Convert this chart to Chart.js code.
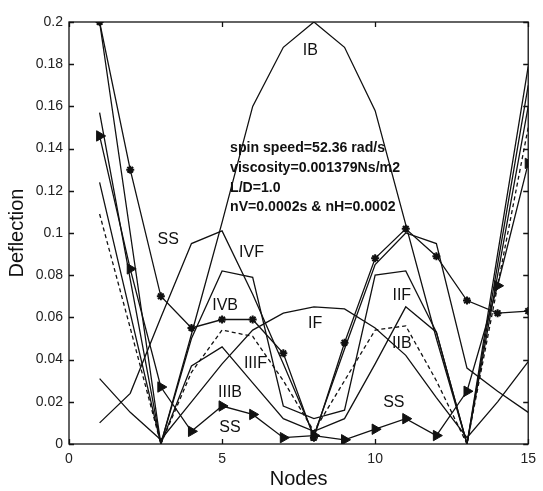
<!DOCTYPE html>
<html>
<head>
<meta charset="utf-8">
<script src="https://cdn.jsdelivr.net/npm/chart.js@4.4.1/dist/chart.umd.min.js"></script>
<style>
  html, body { margin: 0; padding: 0; background: #ffffff; }
  #wrap { width: 543px; height: 491px; }
</style>
</head>
<body>
<div id="wrap"><canvas id="c" width="543" height="491"></canvas></div>
<script>
// Node numbers along the shaft
const nodes = [1, 2, 3, 4, 5, 6, 7, 8, 9, 10, 11, 12, 13, 14, 15];

// Mode-shape deflections at each node
const modeIB   = [0.200, 0.100, 0.000, 0.052, 0.105, 0.160, 0.188, 0.200, 0.188, 0.158, 0.104, 0.050, 0.000, 0.090, 0.179];
const modeIVB  = [0.200, 0.130, 0.070, 0.055, 0.059, 0.059, 0.043, 0.003, 0.048, 0.088, 0.102, 0.089, 0.068, 0.062, 0.063];
const modeSS   = [0.146, 0.083, 0.027, 0.006, 0.018, 0.014, 0.003, 0.004, 0.002, 0.007, 0.012, 0.004, 0.025, 0.075, 0.133];
const modeIIB  = [0.109, 0.055, 0.000, 0.034, 0.054, 0.051, 0.030, 0.006, 0.030, 0.054, 0.056, 0.030, 0.000, 0.075, 0.150];
const modeIF   = [0.031, 0.015, 0.002, 0.020, 0.038, 0.054, 0.062, 0.065, 0.064, 0.055, 0.042, 0.022, 0.003, 0.020, 0.039];
const modeIVF  = [0.010, 0.024, 0.060, 0.095, 0.101, 0.071, 0.038, 0.004, 0.045, 0.085, 0.100, 0.095, 0.036, 0.025, 0.015];
const modeIIF  = [0.157, 0.078, 0.000, 0.050, 0.082, 0.079, 0.018, 0.012, 0.016, 0.080, 0.082, 0.053, 0.000, 0.085, 0.170];
const modeIIIF = [0.124, 0.062, 0.000, 0.037, 0.046, 0.029, 0.012, 0.006, 0.012, 0.038, 0.065, 0.053, 0.000, 0.080, 0.160];

// Axis ticks
const xTicks = [0, 5, 10, 15];
const xTickLabels = ['0', '5', '10', '15'];
const yTicks = [0, 0.02, 0.04, 0.06, 0.08, 0.1, 0.12, 0.14, 0.16, 0.18, 0.2];
const yTickLabels = ['0', '0.02', '0.04', '0.06', '0.08', '0.1', '0.12', '0.14', '0.16', '0.18', '0.2'];

// Curve labels, placed in data units
const curveLabels = [
  { text: 'IB',   x: 7.88,  y: 0.1863 },
  { text: 'SS',   x: 3.24,  y: 0.0967 },
  { text: 'IVF',  x: 5.96,  y: 0.0905 },
  { text: 'IVB',  x: 5.10,  y: 0.0654 },
  { text: 'IF',   x: 8.04,  y: 0.0573 },
  { text: 'IIIF', x: 6.09,  y: 0.0379 },
  { text: 'IIIB', x: 5.26,  y: 0.0246 },
  { text: 'SS',   x: 5.26,  y: 0.0076 },
  { text: 'IIF',  x: 10.87, y: 0.0701 },
  { text: 'IIB',  x: 10.87, y: 0.0474 },
  { text: 'SS',   x: 10.61, y: 0.0194 }
];

// Operating conditions note
const noteLines = [
  'spin speed=52.36 rad/s',
  'viscosity=0.001379Ns/m2',
  'L/D=1.0',
  'nV=0.0002s & nH=0.0002'
];
const noteAnchor = { x: 5.26, y: [0.1403, 0.1308, 0.1213, 0.1123] };
const noteFirstLineWidth = 155;   // narrow face: first line spans this many px

const INK = '#111111';

function series(values) {
  return nodes.map((n, i) => ({ x: n, y: values[i] }));
}

function plain(values) {
  return {
    data: series(values),
    borderColor: INK, borderWidth: 1.3,
    pointRadius: 0, fill: false, tension: 0
  };
}

const datasets = [
  plain(modeIB),
  plain(modeIF),
  plain(modeIVF),
  plain(modeIIF),
  plain(modeIIIF),
  Object.assign(plain(modeIIB), { borderDash: [4, 3] }),
  Object.assign(plain(modeIVB), {
    pointStyle: 'star', pointRadius: 4, pointBorderWidth: 2,
    pointBorderColor: INK, pointBackgroundColor: INK
  }),
  Object.assign(plain(modeSS), {
    pointStyle: 'triangle', pointRotation: 90, pointRadius: 6,
    pointBorderColor: INK, pointBackgroundColor: INK, pointBorderWidth: 1
  })
];

// Frame, inward ticks, curve labels and the note
const decorations = {
  id: 'decorations',
  afterDatasetsDraw(chart) {
    const { ctx, chartArea: a, scales: { x, y } } = chart;
    ctx.save();
    ctx.strokeStyle = INK;
    ctx.lineWidth = 1.3;
    ctx.strokeRect(a.left, a.top, a.right - a.left, a.bottom - a.top);
    const t = 5;
    ctx.beginPath();
    yTicks.forEach(v => {
      const py = Math.round(y.getPixelForValue(v)) + 0.5;
      ctx.moveTo(a.left, py); ctx.lineTo(a.left + t, py);
      ctx.moveTo(a.right, py); ctx.lineTo(a.right - t, py);
    });
    xTicks.forEach(v => {
      const px = Math.round(x.getPixelForValue(v)) + 0.5;
      ctx.moveTo(px, a.bottom); ctx.lineTo(px, a.bottom - t);
      ctx.moveTo(px, a.top); ctx.lineTo(px, a.top + t);
    });
    ctx.stroke();

    ctx.fillStyle = INK;
    ctx.font = '16px "Liberation Sans", Arial, sans-serif';
    ctx.textAlign = 'center';
    ctx.textBaseline = 'middle';
    curveLabels.forEach(l => {
      ctx.fillText(l.text, x.getPixelForValue(l.x), y.getPixelForValue(l.y));
    });

    // Bold narrow note: a regular bold face squeezed horizontally
    ctx.font = 'bold 15px "Liberation Sans", Arial, sans-serif';
    ctx.textAlign = 'left';
    const k = noteFirstLineWidth / ctx.measureText(noteLines[0]).width;
    noteLines.forEach((s, i) => {
      ctx.save();
      ctx.translate(x.getPixelForValue(noteAnchor.x), y.getPixelForValue(noteAnchor.y[i]));
      ctx.scale(k, 1);
      ctx.fillText(s, 0, 0);
      ctx.restore();
    });
    ctx.restore();
  }
};

new Chart(document.getElementById('c'), {
  type: 'line',
  data: { datasets },
  options: {
    responsive: false,
    animation: false,
    devicePixelRatio: 1,
    layout: { padding: { top: 22, right: 6, left: 0, bottom: 0 } },
    plugins: { legend: { display: false }, tooltip: { enabled: false } },
    scales: {
      x: {
        type: 'linear', min: 0, max: 15,
        afterBuildTicks: s => { s.ticks = xTicks.map(v => ({ value: v })); },
        afterFit: s => { s.height = 47; },
        grid: { display: false, drawTicks: false },
        border: { display: false },
        ticks: {
          padding: 7, color: '#222',
          font: { family: '"Liberation Sans", Arial, sans-serif', size: 14 },
          maxRotation: 0, autoSkip: false,
          callback: (v, i) => xTickLabels[i]
        },
        title: {
          display: true, text: 'Nodes', color: '#111',
          font: { family: '"Liberation Sans", Arial, sans-serif', size: 20 },
          padding: { top: 0, bottom: 0 }
        }
      },
      y: {
        type: 'linear', min: 0, max: 0.2,
        afterBuildTicks: s => { s.ticks = yTicks.map(v => ({ value: v })); },
        afterFit: s => { s.width = 69; },
        grid: { display: false, drawTicks: false },
        border: { display: false },
        ticks: {
          padding: 6, color: '#222',
          font: { family: '"Liberation Sans", Arial, sans-serif', size: 14 },
          autoSkip: false,
          callback: (v, i) => yTickLabels[i]
        },
        title: {
          display: true, text: 'Deflection', color: '#111',
          font: { family: '"Liberation Sans", Arial, sans-serif', size: 20 },
          padding: { top: 5, bottom: 0 }
        }
      }
    }
  },
  plugins: [decorations]
});
</script>
</body>
</html>
